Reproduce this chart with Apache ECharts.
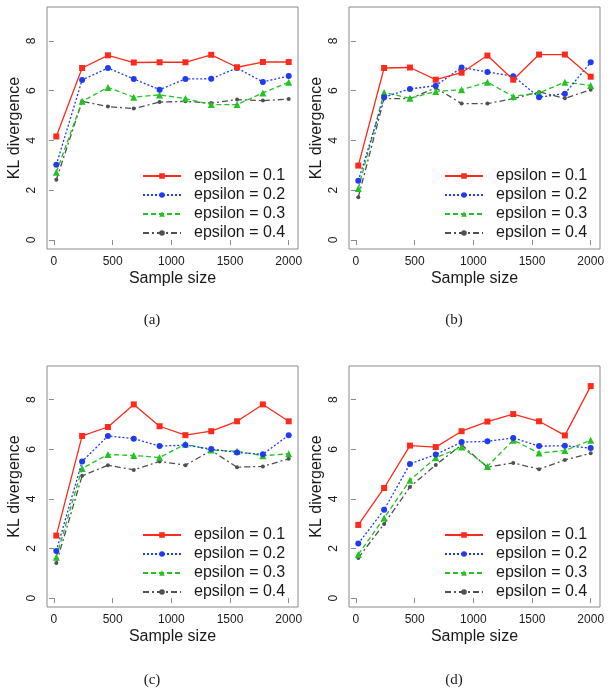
<!DOCTYPE html>
<html>
<head>
<meta charset="utf-8">
<script src="https://cdn.jsdelivr.net/npm/echarts@6/dist/echarts.min.js"></script>
<style>html,body{margin:0;padding:0;background:#fff;}#c{width:611px;height:693px;}</style>
</head>
<body>
<div id="c"></div>
<script>
const sampleSizes = [20, 240, 460, 680, 900, 1120, 1340, 1560, 1780, 2000];
const xTickValues = [0, 500, 1000, 1500, 2000];
const yTickValues = [0, 2, 4, 6, 8];
const seriesNames = ['epsilon = 0.1', 'epsilon = 0.2', 'epsilon = 0.3', 'epsilon = 0.4'];
const panelLabels = ['(a)', '(b)', '(c)', '(d)'];

// Panel (a)
const a_eps01 = [4.16, 6.91, 7.42, 7.13, 7.14, 7.14, 7.44, 6.94, 7.15, 7.15];
const a_eps02 = [3.02, 6.43, 6.91, 6.47, 6.04, 6.47, 6.48, 6.91, 6.35, 6.59];
const a_eps03 = [2.72, 5.57, 6.13, 5.74, 5.83, 5.68, 5.44, 5.44, 5.91, 6.34];
const a_eps04 = [2.42, 5.57, 5.36, 5.28, 5.54, 5.57, 5.50, 5.64, 5.60, 5.66];
// Panel (b)
const b_eps01 = [2.99, 6.91, 6.93, 6.44, 6.72, 7.41, 6.44, 7.45, 7.45, 6.56];
const b_eps02 = [2.38, 5.74, 6.07, 6.20, 6.93, 6.75, 6.58, 5.74, 5.88, 7.14];
const b_eps03 = [2.07, 5.93, 5.69, 5.97, 6.04, 6.34, 5.77, 5.91, 6.34, 6.21];
const b_eps04 = [1.72, 5.68, 5.68, 6.11, 5.48, 5.48, 5.68, 5.95, 5.69, 6.04];
// Panel (c)
const c_eps01 = [2.52, 6.54, 6.90, 7.81, 6.93, 6.57, 6.73, 7.13, 7.81, 7.13];
const c_eps02 = [1.90, 5.51, 6.54, 6.43, 6.13, 6.17, 6.01, 5.87, 5.80, 6.57];
const c_eps03 = [1.65, 5.23, 5.79, 5.75, 5.67, 6.21, 5.97, 5.92, 5.74, 5.82];
const c_eps04 = [1.41, 4.93, 5.36, 5.17, 5.51, 5.36, 5.95, 5.28, 5.31, 5.62];
// Panel (d)
const d_eps01 = [2.95, 4.44, 6.15, 6.09, 6.73, 7.12, 7.42, 7.13, 6.56, 8.55];
const d_eps02 = [2.20, 3.56, 5.41, 5.79, 6.29, 6.32, 6.46, 6.13, 6.14, 6.05];
const d_eps03 = [1.76, 3.23, 4.75, 5.66, 6.09, 5.31, 6.37, 5.85, 5.95, 6.37];
const d_eps04 = [1.62, 2.99, 4.48, 5.37, 6.18, 5.28, 5.45, 5.20, 5.57, 5.84];

const panels = [
  [a_eps01, a_eps02, a_eps03, a_eps04],
  [b_eps01, b_eps02, b_eps03, b_eps04],
  [c_eps01, c_eps02, c_eps03, c_eps04],
  [d_eps01, d_eps02, d_eps03, d_eps04]
];

const gridBoxes = [
  {left: 47, top: 7, width: 251, height: 242},
  {left: 349, top: 7, width: 251, height: 242},
  {left: 47, top: 366, width: 251, height: 241},
  {left: 349, top: 366, width: 251, height: 241}
];
const captionPos = [[152, 320], [454, 320], [152, 680], [454, 680]];

const styles = [
  {color: '#ff2a1a', type: 'solid', symbol: 'rect', size: 6},
  {color: '#1f3cf0', type: [2, 2], symbol: 'circle', size: 6},
  {color: '#22c322', type: [5, 3], symbol: 'triangle', size: 7},
  {color: '#505050', type: [6, 3, 2, 3], symbol: 'circle', size: 4}
];

const frameColor = '#8a8a8a';
const textColor = '#1a1a1a';
const fontFam = '"Liberation Sans", Arial, sans-serif';
const plainNum = v => String(v);

const grid = [], xAxis = [], yAxis = [], series = [], legend = [], graphic = [];
gridBoxes.forEach((g, i) => {
  grid.push(Object.assign({show: true, borderColor: frameColor, borderWidth: 1, backgroundColor: 'transparent'}, g));
  xAxis.push({
    type: 'value', gridIndex: i, min: -59.2, max: 2079.2,
    name: 'Sample size', nameLocation: 'middle', nameGap: 22,
    nameTextStyle: {fontSize: 16, color: textColor, fontFamily: fontFam},
    axisLine: {show: false},
    axisTick: {show: true, inside: false, length: 5, lineStyle: {color: frameColor}, customValues: xTickValues},
    axisLabel: {show: true, margin: 7, fontSize: 12, color: textColor, fontFamily: fontFam, customValues: xTickValues, formatter: plainNum},
    splitLine: {show: false}
  });
  yAxis.push({
    type: 'value', gridIndex: i, min: -0.36, max: 9.36,
    name: 'KL divergence', nameLocation: 'middle', nameGap: 24,
    nameTextStyle: {fontSize: 16, color: textColor, fontFamily: fontFam},
    axisLine: {show: false},
    axisTick: {show: true, inside: false, length: 5, lineStyle: {color: frameColor}, customValues: yTickValues},
    axisLabel: {show: true, margin: 9, rotate: 90, fontSize: 12, color: textColor, fontFamily: fontFam, customValues: yTickValues, formatter: plainNum},
    splitLine: {show: false}
  });
  panels[i].forEach((vals, k) => {
    const s = styles[k];
    series.push({
      type: 'line', name: seriesNames[k], xAxisIndex: i, yAxisIndex: i,
      data: sampleSizes.map((x, j) => [x, vals[j]]),
      symbol: s.symbol, symbolSize: s.size, showSymbol: true,
      lineStyle: {color: s.color, width: 1.3, type: s.type},
      itemStyle: {color: s.color},
      animation: false, z: 10 - k
    });
  });
  legend.push({
    orient: 'vertical', left: g.left + 90, top: g.top + 156,
    itemWidth: 38, itemHeight: 7, itemGap: 3,
    data: seriesNames,
    textStyle: {fontSize: 16, color: textColor, fontFamily: fontFam, padding: [0, 0, 0, 8]},
    selectedMode: false
  });
  graphic.push({
    type: 'text', x: captionPos[i][0], y: captionPos[i][1],
    style: {text: panelLabels[i], align: 'center', verticalAlign: 'middle', font: '15px "Liberation Serif", serif', fill: textColor}
  });
});

const chart = echarts.init(document.getElementById('c'), null, {renderer: 'canvas'});
chart.setOption({animation: false, backgroundColor: '#fff', grid, xAxis, yAxis, series, legend, graphic});
</script>
</body>
</html>
